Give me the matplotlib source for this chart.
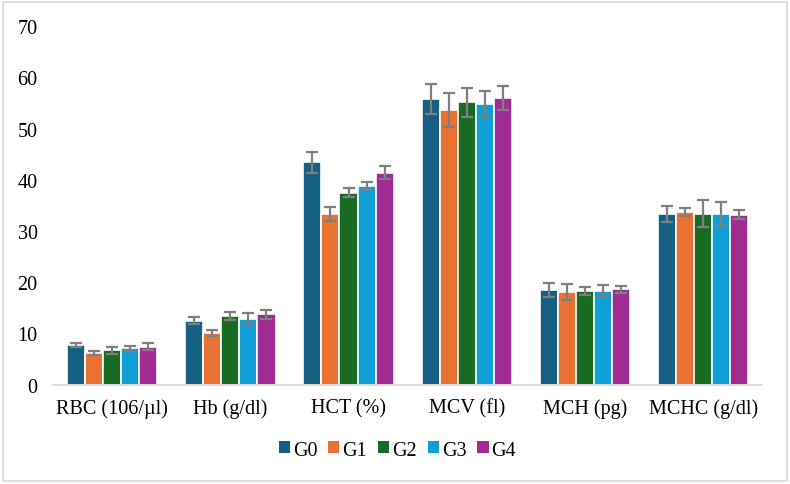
import numpy as np
import matplotlib
matplotlib.use("Agg")
import matplotlib.pyplot as plt
from matplotlib.patches import Patch, Rectangle

plt.rcParams["font.family"] = ["Liberation Serif", "DejaVu Serif"]

# ---- data -----------------------------------------------------------------
categories = ["RBC (106/µl)", "Hb (g/dl)", "HCT (%)", "MCV (fl)", "MCH (pg)", "MCHC (g/dl)"]
groups = ["G0", "G1", "G2", "G3", "G4"]

g0 = [7.7, 12.5, 43.4, 55.8, 18.5, 33.3]
g1 = [6.15, 10.1, 33.3, 53.7, 18.1, 33.7]
g2 = [6.7, 13.4, 37.5, 55.1, 18.3, 33.4]
g3 = [7.1, 12.9, 38.8, 54.8, 18.25, 33.4]
g4 = [7.4, 13.7, 41.4, 56.0, 18.6, 33.2]

e0 = [0.4, 0.75, 2.0, 2.9, 1.35, 1.55]
e1 = [0.4, 0.6, 1.4, 3.3, 1.5, 0.75]
e2 = [0.7, 0.75, 0.85, 2.8, 0.75, 2.65]
e3 = [0.5, 1.05, 0.8, 2.5, 1.1, 2.35]
e4 = [0.65, 0.9, 1.3, 2.4, 0.65, 0.9]

colors = ["#156082", "#E97132", "#196B24", "#0F9ED5", "#A02B93"]

# ---- plot -----------------------------------------------------------------
fig = plt.figure(figsize=(7.9, 4.85), dpi=100)
ax = fig.add_axes([0.067, 0.205, 0.898, 0.739])

x = np.arange(len(categories))
slot = 0.153
values = [g0, g1, g2, g3, g4]
errs = [e0, e1, e2, e3, e4]
for i, (v, e) in enumerate(zip(values, errs)):
    pos = x + (i - 2) * slot
    ax.bar(pos, v, width=slot, color=colors[i], edgecolor="white", linewidth=1.2,
           label=groups[i], zorder=2)
    ax.errorbar(pos, v, yerr=e, fmt="none", ecolor="#7f7f7f", elinewidth=1.6,
                capsize=4, capthick=1.6, zorder=3)

ax.set_xlim(-0.5, len(categories) - 0.5)
ax.set_ylim(0, 70)
ax.set_yticks(range(0, 71, 10))
ax.set_xticks(x)
ax.set_xticklabels(categories)
ax.tick_params(axis="both", length=0, labelsize=14.5, colors="#000000")
ax.tick_params(axis="y", pad=11)
ax.tick_params(axis="x", pad=10)
for s in ("top", "right", "left"):
    ax.spines[s].set_visible(False)
ax.spines["bottom"].set_color("#d9d9d9")
ax.spines["bottom"].set_linewidth(1.2)

handles = [Patch(facecolor=c, edgecolor="none") for c in colors]
fig.legend(handles, groups, loc="center", bbox_to_anchor=(0.503, 0.07), ncol=5,
           frameon=False, fontsize=14.5, handlelength=0.55, handleheight=0.55,
           handletextpad=0.15, columnspacing=0.55)

fig.patches.append(Rectangle((0.004, 0.006), 0.992, 0.988, transform=fig.transFigure,
                             fill=False, edgecolor="#d9d9d9", linewidth=1.2))

fig.savefig("out.png", dpi=100)
